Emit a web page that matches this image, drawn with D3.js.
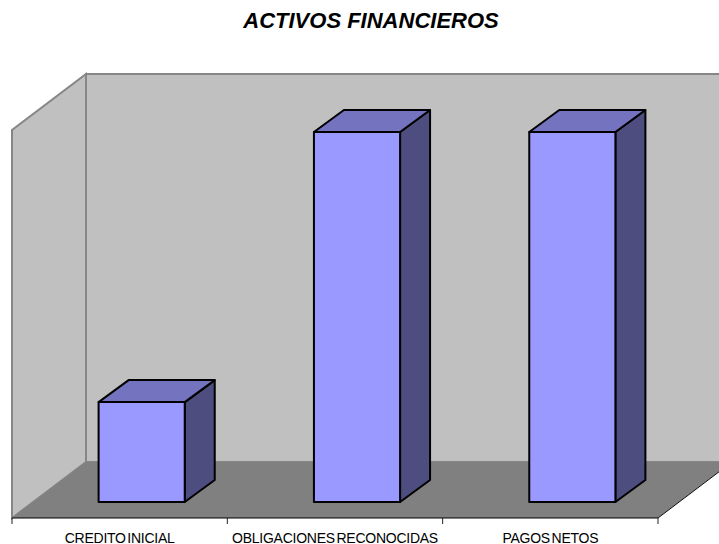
<!DOCTYPE html>
<html><head><meta charset="utf-8">
<script src="https://cdn.jsdelivr.net/npm/d3@7"></script>
<style>html,body{margin:0;padding:0;background:#fff;overflow:hidden}svg{display:block}</style>
</head><body><svg id="c" width="719" height="544"></svg>
<script>
const categories = ["CREDITO INICIAL", "OBLIGACIONES RECONOCIDAS", "PAGOS NETOS"];
const values = [27, 100, 100];
const titleText = "ACTIVOS FINANCIEROS";

const svg = d3.select("#c");
const x = d3.scaleBand().domain(categories).range([12, 658]).paddingInner(0.6).paddingOuter(0.3);
const y = d3.scaleLinear().domain([0, 100]).range([502, 132]);
const line = d3.line();

const wall = {dx: 74, dy: -56};
const fl = {l: 12, r: 658, b: 518, top: 74};
const barOff = {dx: 22, dy: 0};
const depth = {dx: 30, dy: -22};

svg.append("path").attr("d", line([[fl.l, fl.b], [fl.l, fl.top - wall.dy], [fl.l + wall.dx, fl.top], [fl.l + wall.dx, fl.b + wall.dy]]) + "Z")
  .attr("fill", "#c0c0c0").attr("stroke", "#868686").attr("stroke-width", 2);
svg.append("path").attr("d", line([[fl.l + wall.dx, fl.b + wall.dy], [fl.l + wall.dx, fl.top], [fl.r + wall.dx, fl.top], [fl.r + wall.dx, fl.b + wall.dy]]) + "Z")
  .attr("fill", "#c0c0c0").attr("stroke", "#868686").attr("stroke-width", 2);
svg.append("path").attr("d", line([[fl.l, fl.b], [fl.l + wall.dx, fl.b + wall.dy], [fl.r + wall.dx, fl.b + wall.dy], [fl.r, fl.b]]) + "Z")
  .attr("fill", "#808080");
svg.append("path").attr("d", line([[fl.r, fl.b], [fl.r + wall.dx, fl.b + wall.dy]])).attr("fill", "none").attr("stroke", "#111").attr("stroke-width", 1);

const ax = svg.append("g").attr("transform", `translate(0,${fl.b})`)
  .call(d3.axisBottom(x).tickSize(0).tickPadding(0));
ax.select(".domain").remove();
ax.selectAll("text").attr("y", 25).attr("dy", 0).attr("fill", "#000")
  .attr("font-family", "'Liberation Sans',Arial,sans-serif").attr("font-size", 14)
  .attr("letter-spacing", "-0.25").attr("word-spacing", "-2");
const step = x.step();
const edges = [0, 1, 2, 3].map(i => fl.l + i * step);
svg.append("path").attr("d", line([[fl.l, fl.b], [fl.r, fl.b]])).attr("stroke", "#000").attr("stroke-width", 1.2).attr("fill", "none");
svg.selectAll("line.edge").data(edges).join("line").attr("class", "edge")
  .attr("x1", d => d).attr("x2", d => d).attr("y1", fl.b).attr("y2", fl.b + 6)
  .attr("stroke", "#222").attr("stroke-width", 1);

const g = svg.selectAll("g.bar").data(categories.map((c, i) => ({c, v: values[i]}))).join("g").attr("class", "bar")
  .attr("stroke", "#000").attr("stroke-width", 2).attr("stroke-linejoin", "round");
const corners = d => {
  const l = x(d.c) + barOff.dx, r = l + x.bandwidth(), t = y(d.v), b = y(0);
  return {l, r, t, b};
};
g.append("path").attr("fill", "#4d4d80").attr("d", d => {
  const p = corners(d);
  return line([[p.r, p.t], [p.r + depth.dx, p.t + depth.dy], [p.r + depth.dx, p.b + depth.dy], [p.r, p.b]]) + "Z";
});
g.append("path").attr("fill", "#7373bf").attr("d", d => {
  const p = corners(d);
  return line([[p.l, p.t], [p.l + depth.dx, p.t + depth.dy], [p.r + depth.dx, p.t + depth.dy], [p.r, p.t]]) + "Z";
});
g.append("path").attr("fill", "#9999ff").attr("d", d => {
  const p = corners(d);
  return line([[p.l, p.t], [p.r, p.t], [p.r, p.b], [p.l, p.b]]) + "Z";
});

svg.append("text").text(titleText).attr("x", 371).attr("y", 28).attr("text-anchor", "middle")
  .attr("font-family", "'Liberation Sans',Arial,sans-serif").attr("font-size", 22)
  .attr("font-weight", "bold").attr("font-style", "italic").attr("fill", "#000");
</script></body></html>
